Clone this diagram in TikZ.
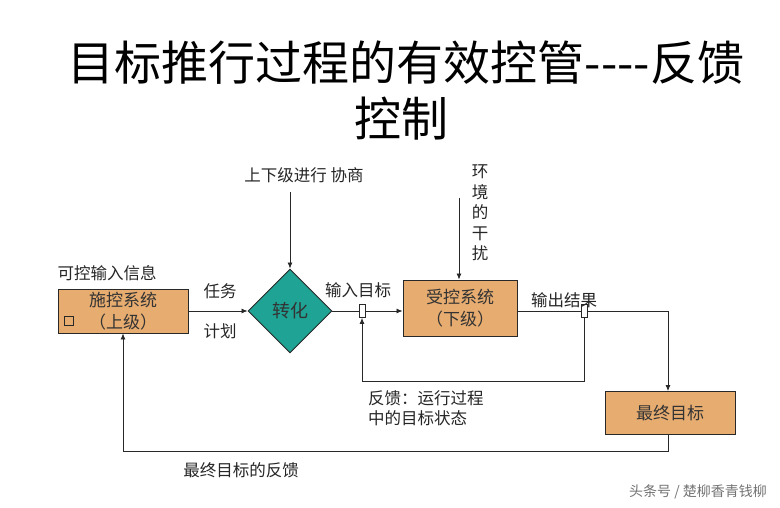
\documentclass[tikz,border=0pt]{standalone}
\usepackage{fontspec}
\setmainfont{Noto Sans CJK SC}
\usetikzlibrary{shapes.geometric,arrows.meta}
\definecolor{boxfill}{RGB}{230,172,112}
\definecolor{diafill}{RGB}{30,163,148}
\definecolor{linec}{RGB}{40,40,40}
\begin{document}
\begin{tikzpicture}[x=1pt,y=-1pt,
  lbl/.style={font=\fontsize{16.5}{19}\selectfont, inner sep=0pt, text=black!85},
  box/.style={draw=linec, line width=0.9pt, fill=boxfill, align=center, inner sep=0pt,
    font=\fontsize{17}{22}\selectfont, text=black!80},
  junc/.style={draw=linec, line width=0.8pt, fill=white, minimum width=6pt, minimum height=13pt, inner sep=0pt},
  conn/.style={draw=linec, line width=0.8pt},
  arr/.style={conn, -{Latex[length=6pt,width=5pt]}}]
\useasboundingbox[fill=white] (0,0) rectangle (780,508);

% title
\node[inner sep=0pt, font=\fontsize{47}{55}\selectfont] (title1) at (406,63) {目标推行过程的有效控管-{}-{}-{}-反馈};
\node[inner sep=0pt, font=\fontsize{47}{55}\selectfont] (title2) at (401,119) {控制};

% nodes
\node[box, minimum width=130pt, minimum height=44pt] (b1) at (123,311) {施控系统\\（上级）};
\node[draw=linec, line width=0.9pt, minimum size=9pt, inner sep=0pt] (sq) at (69,321) {};
\node[draw=linec, line width=0.9pt, fill=diafill, diamond, aspect=1, minimum width=84pt, minimum height=84pt, inner sep=0pt,
  font=\fontsize{18}{20}\selectfont, text=black!80] (dia) at (290,311) {转化};
\node[box, minimum width=114pt, minimum height=56pt] (b2) at (460,308) {受控系统\\（下级）};
\node[box, minimum width=130pt, minimum height=43pt] (b3) at (670,413) {最终目标};
\node[junc] (j1) at (362,311) {};
\node[junc] (j2) at (584,311) {};

% labels
\node[lbl] (l1) at (107,273) {可控输入信息};
\node[lbl] (l2) at (220,291) {任务};
\node[lbl] (l3) at (220,331) {计划};
\node[lbl] (l4) at (304,175) {上下级进行 协商};
\node[lbl, align=center, font=\fontsize{16.5}{20.5}\selectfont] (l5) at (480,213) {环\\境\\的\\干\\扰};
\node[lbl] (l6) at (358,290) {输入目标};
\node[lbl] (l7) at (564,300) {输出结果};
\node[lbl, anchor=west, align=left, font=\fontsize{16.5}{20}\selectfont] (l8) at (368,408) {反馈：运行过程\\中的目标状态};
\node[lbl] (l9) at (241,470) {最终目标的反馈};
\node[inner sep=0pt, font=\fontsize{14}{16}\selectfont, text=black!55] (wm) at (698,492) {头条号 / 楚柳香青钱柳};

% coordinates
\coordinate (t1) at (290,192);
\coordinate (t2) at (459,198);
\coordinate (fb) at (0,381);
\coordinate (fb2) at (0,451);
\coordinate (c1) at (668,311);

% connectors
\draw[arr] (b1.east) -- (dia.west);
\draw[arr] (t1) -- (dia.north);
\draw[conn] (dia.east) -- (j1.west);
\draw[arr] (j1.east) -- (j1.east -| b2.west);
\draw[arr] (t2) -- (t2 |- b2.north);
\draw[conn] (b2.east |- j2.west) -- (j2.west);
\draw[arr] (j2.east) -- (c1) -- (c1 |- b3.north);
\draw[arr] (j2.south) -- (j2.south |- fb) -- (j1.south |- fb) -- (j1.south);
\draw[arr] (c1 |- b3.south) -- (c1 |- fb2) -- (b1.south |- fb2) -- (b1.south);
\end{tikzpicture}
\end{document}
